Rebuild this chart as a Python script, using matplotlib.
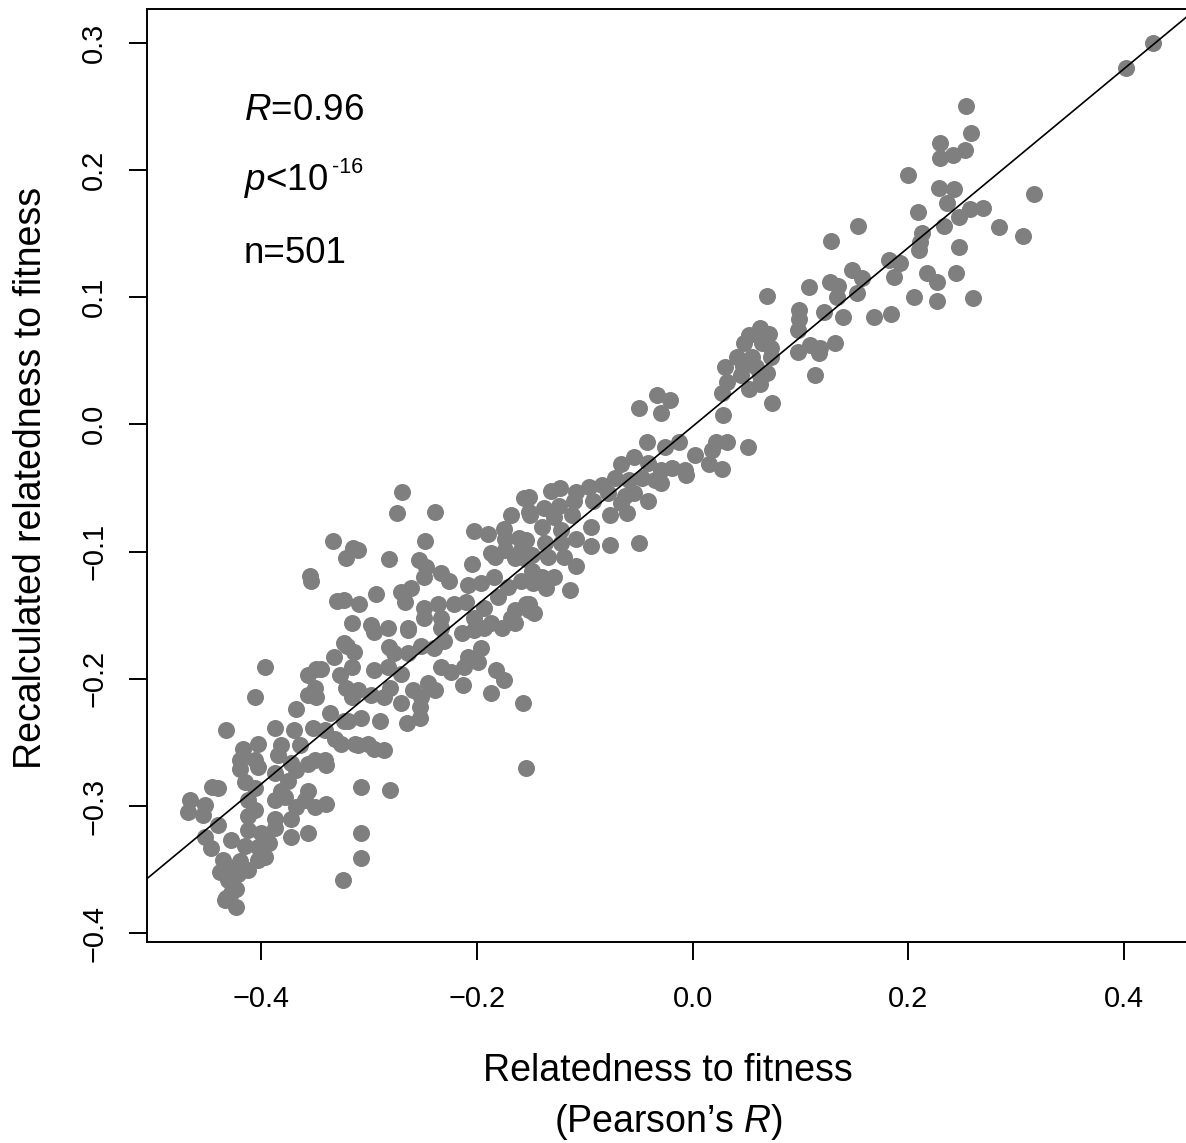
import numpy as np
import matplotlib.pyplot as plt

plt.rcParams["font.family"] = ["Liberation Sans", "DejaVu Sans"]
plt.rcParams["mathtext.fontset"] = "custom"
plt.rcParams["mathtext.rm"] = "Liberation Sans"
plt.rcParams["mathtext.it"] = "Liberation Sans:italic"

# relatedness to fitness (x) vs recalculated relatedness (y)
related = np.array([
    0.402, 0.427,
    0.253, 0.258, 0.229, 0.252, 0.241, 0.229, 0.200, 0.316, 0.228, 0.242, 0.236, 0.209, 0.257, 0.269,
    0.247, 0.233, 0.284, 0.213, 0.306, 0.211, 0.210, 0.247, 0.182, 0.192, 0.187, 0.217, 0.226, 0.244,
    0.205, 0.226, 0.260, 0.184, 0.128, 0.153,
    0.069, 0.108, 0.127, 0.135, 0.148, 0.157, 0.152, 0.134, 0.099, 0.122, 0.139, 0.168, 0.099, 0.098,
    0.062, 0.052, 0.071, 0.048, 0.064, 0.073, 0.041, 0.055, 0.073, 0.098, 0.109, 0.118, 0.132, 0.117,
    0.030, 0.047, 0.059, 0.045, 0.062, 0.069, 0.113, 0.032, 0.027, 0.052, 0.062, 0.074, 0.028, 0.022,
    0.032, 0.018, 0.051, 0.015, 0.027,
    -0.033, -0.021, -0.050, -0.029, -0.042, -0.026, -0.013, 0.002, -0.066, -0.054, -0.041, -0.029,
    -0.019, -0.007, -0.006, -0.072, -0.059, -0.047, -0.035, -0.029, -0.084, -0.096, -0.108, -0.131,
    -0.123, -0.078, -0.063, -0.054, -0.041, -0.066, -0.152, -0.138, -0.124, -0.110, -0.092, -0.077,
    -0.061, -0.151, -0.128, -0.112, -0.094, -0.140, -0.122, -0.108, -0.094, -0.077, -0.050, -0.154,
    -0.137, -0.122, -0.149, -0.134, -0.119, -0.108, -0.149, -0.140, -0.128, -0.114, -0.136, -0.152,
    -0.147,
    -0.269, -0.274, -0.239, -0.248, -0.315, -0.310, -0.321, -0.281, -0.254, -0.247, -0.203, -0.190,
    -0.175, -0.168, -0.156, -0.152, -0.174, -0.161, -0.187, -0.174, -0.159, -0.183, -0.165, -0.154,
    -0.204, -0.233, -0.226, -0.249, -0.208, -0.196, -0.184, -0.171, -0.159, -0.148, -0.293, -0.270,
    -0.261, -0.267, -0.249, -0.236, -0.221, -0.210, -0.193, -0.180, -0.165, -0.154, -0.323, -0.309,
    -0.316, -0.298, -0.282, -0.264, -0.249, -0.233, -0.203, -0.187, -0.168, -0.152, -0.333,
    -0.355, -0.354, -0.330, -0.320, -0.332, -0.396, -0.356, -0.349, -0.344, -0.327, -0.316, -0.350,
    -0.356, -0.349, -0.321, -0.316, -0.406, -0.368, -0.336, -0.319, -0.432, -0.387, -0.369, -0.352,
    -0.341, -0.331, -0.313, -0.417, -0.403, -0.381, -0.364, -0.419, -0.406, -0.384, -0.372, -0.350,
    -0.341, -0.326,
    -0.323, -0.314, -0.295, -0.281, -0.277, -0.264, -0.252, -0.240, -0.230, -0.233, -0.214, -0.203,
    -0.193, -0.177, -0.165, -0.196, -0.208, -0.199, -0.182, -0.175, -0.187, -0.157, -0.154, -0.212,
    -0.213, -0.224, -0.233, -0.239, -0.245, -0.252, -0.253, -0.253, -0.265, -0.270, -0.259, -0.270,
    -0.282, -0.295, -0.280, -0.286, -0.298, -0.310, -0.290, -0.307, -0.323, -0.310, -0.301, -0.295,
    -0.286, -0.307, -0.280, -0.264,
    -0.445, -0.440, -0.466, -0.452, -0.468, -0.454, -0.440, -0.452, -0.446, -0.435, -0.438, -0.431,
    -0.431, -0.432, -0.423, -0.428, -0.421, -0.419, -0.415, -0.428, -0.403, -0.393, -0.400, -0.412,
    -0.412, -0.406, -0.412, -0.415, -0.419, -0.403, -0.406, -0.387, -0.381, -0.375, -0.368, -0.356,
    -0.340, -0.387, -0.378, -0.368, -0.356, -0.359, -0.350, -0.340, -0.387, -0.372, -0.387, -0.372,
    -0.356, -0.324, -0.307, -0.307, -0.403, -0.396, -0.412, -0.423, -0.433,
])
recalc = np.array([
    0.280, 0.300,
    0.250, 0.229, 0.221, 0.216, 0.212, 0.209, 0.196, 0.181, 0.186, 0.185, 0.174, 0.167, 0.169, 0.170,
    0.163, 0.156, 0.155, 0.150, 0.148, 0.143, 0.137, 0.139, 0.129, 0.127, 0.116, 0.119, 0.112, 0.119,
    0.100, 0.097, 0.099, 0.087, 0.144, 0.156,
    0.101, 0.108, 0.112, 0.109, 0.121, 0.115, 0.103, 0.100, 0.090, 0.088, 0.084, 0.084, 0.083, 0.074,
    0.076, 0.070, 0.071, 0.064, 0.064, 0.060, 0.053, 0.053, 0.053, 0.057, 0.062, 0.060, 0.064, 0.056,
    0.045, 0.046, 0.045, 0.039, 0.039, 0.040, 0.039, 0.033, 0.025, 0.028, 0.032, 0.017, 0.007, -0.014,
    -0.014, -0.020, -0.018, -0.031, -0.035,
    0.023, 0.019, 0.013, 0.009, -0.014, -0.018, -0.014, -0.024, -0.031, -0.026, -0.030, -0.036,
    -0.034, -0.036, -0.040, -0.042, -0.044, -0.042, -0.044, -0.046, -0.048, -0.049, -0.053, -0.052,
    -0.050, -0.054, -0.056, -0.054, -0.060, -0.062, -0.057, -0.066, -0.064, -0.060, -0.060, -0.071,
    -0.070, -0.071, -0.073, -0.071, -0.081, -0.081, -0.083, -0.090, -0.096, -0.095, -0.093, -0.091,
    -0.093, -0.093, -0.103, -0.104, -0.104, -0.111, -0.115, -0.120, -0.120, -0.130, -0.129, -0.141,
    -0.148,
    -0.053, -0.070, -0.069, -0.092, -0.097, -0.099, -0.105, -0.106, -0.107, -0.112, -0.084, -0.086,
    -0.082, -0.071, -0.058, -0.069, -0.090, -0.089, -0.101, -0.099, -0.099, -0.104, -0.105, -0.106,
    -0.110, -0.117, -0.123, -0.120, -0.126, -0.125, -0.120, -0.128, -0.123, -0.125, -0.133, -0.132,
    -0.129, -0.140, -0.144, -0.141, -0.141, -0.140, -0.144, -0.136, -0.146, -0.141, -0.138, -0.141,
    -0.156, -0.158, -0.160, -0.160, -0.152, -0.152, -0.152, -0.156, -0.152, -0.146, -0.092,
    -0.119, -0.123, -0.139, -0.174, -0.183, -0.191, -0.197, -0.192, -0.192, -0.197, -0.191, -0.207,
    -0.213, -0.214, -0.207, -0.214, -0.214, -0.224, -0.227, -0.233, -0.240, -0.239, -0.240, -0.239,
    -0.240, -0.247, -0.251, -0.255, -0.251, -0.252, -0.252, -0.264, -0.264, -0.260, -0.266, -0.264,
    -0.264, -0.251,
    -0.172, -0.179, -0.163, -0.175, -0.180, -0.180, -0.174, -0.176, -0.170, -0.160, -0.164, -0.162,
    -0.160, -0.160, -0.156, -0.176, -0.183, -0.187, -0.193, -0.201, -0.211, -0.219, -0.270, -0.191,
    -0.205, -0.195, -0.191, -0.209, -0.203, -0.214, -0.222, -0.231, -0.235, -0.219, -0.209, -0.196,
    -0.191, -0.193, -0.207, -0.214, -0.213, -0.209, -0.233, -0.231, -0.233, -0.252, -0.251, -0.255,
    -0.256, -0.285, -0.287, -0.162,
    -0.285, -0.286, -0.295, -0.299, -0.305, -0.307, -0.315, -0.324, -0.333, -0.342, -0.352, -0.348,
    -0.358, -0.372, -0.379, -0.368, -0.353, -0.343, -0.331, -0.327, -0.332, -0.329, -0.321, -0.319,
    -0.308, -0.303, -0.295, -0.281, -0.271, -0.269, -0.286, -0.274, -0.288, -0.280, -0.272, -0.267,
    -0.268, -0.295, -0.293, -0.301, -0.288, -0.295, -0.301, -0.298, -0.310, -0.310, -0.317, -0.324,
    -0.321, -0.358, -0.321, -0.341, -0.342, -0.340, -0.350, -0.365, -0.374,
])

# fitted line
FIT_SLOPE = 0.703
FIT_INTERCEPT = -0.0016

x_ticks = [-0.4, -0.2, 0.0, 0.2, 0.4]
x_ticklabels = ["\u22120.4", "\u22120.2", "0.0", "0.2", "0.4"]
y_ticks = [-0.4, -0.3, -0.2, -0.1, 0.0, 0.1, 0.2, 0.3]
y_ticklabels = ["\u22120.4", "\u22120.3", "\u22120.2", "\u22120.1", "0.0", "0.1", "0.2", "0.3"]

W, H = 1186, 1143
fig = plt.figure(figsize=(W / 100, H / 100), dpi=100)
ax = fig.add_axes([146.7 / W, 1 - 941.7 / H, 1.003 - 146.7 / W, 932.4 / H])

ax.scatter(related, recalc, s=150, c="#7f7f7f", linewidths=0, zorder=2)
ax.axline((0, FIT_INTERCEPT), slope=FIT_SLOPE, color="black", lw=1.2, zorder=3)

ax.set_xlim(-0.5059, 0.4605)
ax.set_ylim(-0.4066, 0.3262)
ax.set_xticks(x_ticks)
ax.set_xticklabels(x_ticklabels)
ax.set_yticks(y_ticks)
ax.set_yticklabels(y_ticklabels, rotation=90, va="center")

for side in ["left", "bottom", "top"]:
    ax.spines[side].set_linewidth(1.4)
ax.spines["right"].set_visible(False)
ax.tick_params(axis="both", direction="out", length=13.2, width=1.4, labelsize=20.8)
ax.tick_params(axis="x", pad=18)
ax.tick_params(axis="y", pad=14.5)

# stats annotation
ax.text(-0.4159, 0.2393, r"$R$=0.96", fontsize=26.5, ha="left", va="baseline")
pt = ax.text(-0.4159, 0.1843, r"$p$<10", fontsize=26.5, ha="left", va="baseline")
ax.annotate("-16", xy=(1, 0), xycoords=pt, xytext=(3, 19), textcoords="offset points",
            fontsize=15.5, ha="left", va="baseline")
ax.text(-0.4159, 0.1269, "n=501", fontsize=26.5, ha="left", va="baseline")

fig.text(668 / W, 1 - 1081 / H, "Relatedness to fitness", fontsize=27, ha="center", va="baseline")
fig.text(668 / W, 1 - 1132 / H, "(Pearson\u2019s $R$)", fontsize=27, ha="center", va="baseline")
fig.text(31 / W, 1 - 478 / H, "Recalculated relatedness to fitness", fontsize=27,
         rotation=90, ha="center", va="center")

fig.savefig("out.png", dpi=100)
